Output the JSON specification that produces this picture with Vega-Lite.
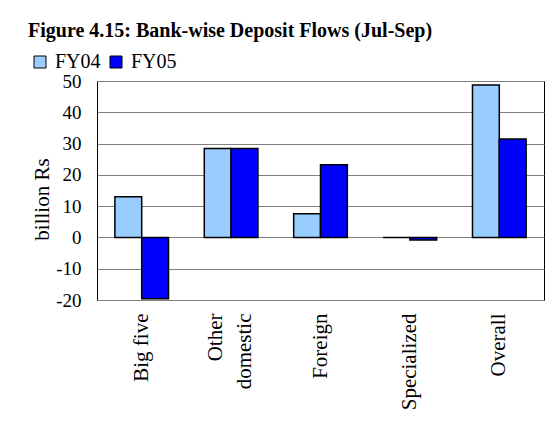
{
  "$schema": "https://vega.github.io/schema/vega-lite/v6.json",
  "width": 447,
  "height": 219,
  "autosize": {"type": "none"},
  "padding": {"left": 97, "top": 81, "right": 1, "bottom": 121},
  "background": "white",
  "title": {
    "text": "Figure 4.15: Bank-wise Deposit Flows (Jul-Sep)",
    "anchor": "start",
    "frame": "group",
    "dx": -69,
    "dy": 44,
    "offset": 39,
    "baseline": "alphabetic",
    "font": "Liberation Serif",
    "fontSize": 20,
    "fontWeight": "bold",
    "color": "black"
  },
  "data": {
    "values": [
      {"category": "Big five", "year": "FY04", "value": 13.0},
      {"category": "Big five", "year": "FY05", "value": -19.6},
      {"category": "Other domestic", "year": "FY04", "value": 28.4},
      {"category": "Other domestic", "year": "FY05", "value": 28.4},
      {"category": "Foreign", "year": "FY04", "value": 7.6},
      {"category": "Foreign", "year": "FY05", "value": 23.2},
      {"category": "Specialized", "year": "FY04", "value": 0.0},
      {"category": "Specialized", "year": "FY05", "value": -0.8},
      {"category": "Overall", "year": "FY04", "value": 48.7},
      {"category": "Overall", "year": "FY05", "value": 31.5}
    ]
  },
  "mark": {"type": "bar", "stroke": "black", "strokeWidth": 1.5},
  "encoding": {
    "x": {
      "field": "category",
      "type": "nominal",
      "sort": ["Big five", "Other domestic", "Foreign", "Specialized", "Overall"],
      "scale": {"paddingInner": 0.4, "paddingOuter": 0.2},
      "axis": {
        "title": null,
        "domain": false,
        "ticks": false,
        "labelAngle": -90,
        "labelAlign": "right",
        "labelBaseline": "middle",
        "labelPadding": 13,
        "labelFont": "Liberation Serif",
        "labelFontSize": 21,
        "labelColor": "black",
        "labelLineHeight": 29,
        "labelOffset": {"condition": {"test": "datum.value == 'Other domestic'", "value": -15}, "value": 0},
        "labelExpr": "datum.value == 'Other domestic' ? ['Other', 'domestic'] : datum.value"
      }
    },
    "xOffset": {"field": "year", "type": "nominal"},
    "y": {
      "field": "value",
      "type": "quantitative",
      "scale": {"domain": [-20, 50], "nice": false, "zero": true},
      "axis": {
        "values": [-20, -10, 0, 10, 20, 30, 40, 50],
        "labelExpr": "'' + datum.value",
        "title": "billion Rs",
        "titleFont": "Liberation Serif",
        "titleFontSize": 21,
        "titleFontWeight": "normal",
        "titleColor": "black",
        "titleAngle": -90,
        "titleAlign": "center",
        "titleBaseline": "alphabetic",
        "titleX": -49,
        "titleY": 118,
        "domain": false,
        "ticks": false,
        "labelPadding": 16,
        "labelFont": "Liberation Serif",
        "labelFontSize": 19,
        "labelColor": "black",
        "grid": true,
        "gridColor": "#808080",
        "gridWidth": 1
      }
    },
    "color": {
      "field": "year",
      "type": "nominal",
      "scale": {"domain": ["FY04", "FY05"], "range": ["#99CCFF", "#0000FF"]},
      "legend": {
        "title": null,
        "orient": "none",
        "direction": "horizontal",
        "legendX": -67,
        "legendY": -29,
        "symbolType": "square",
        "symbolSize": 144,
        "symbolStrokeColor": "black",
        "symbolStrokeWidth": 1,
        "symbolOpacity": 1,
        "labelFont": "Liberation Serif",
        "labelFontSize": 20,
        "labelColor": "black",
        "labelOffset": 5,
        "columnPadding": 5
      }
    }
  },
  "config": {
    "view": {"stroke": "black", "strokeWidth": 1}
  }
}
